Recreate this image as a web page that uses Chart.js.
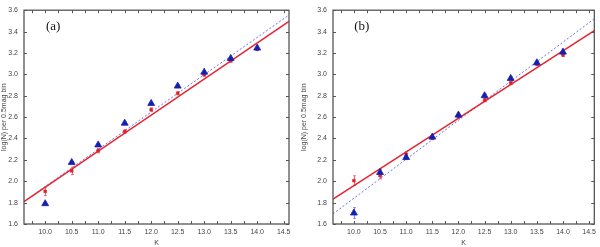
<!DOCTYPE html>
<html><head><meta charset="utf-8">
<script src="https://cdn.jsdelivr.net/npm/chart.js@4/dist/chart.umd.min.js"></script>
<style>
html,body{margin:0;padding:0;background:#fff;width:600px;height:247px;overflow:hidden}
.w{position:absolute;top:0;height:247px}
</style></head><body>
<div class="w" style="left:0;width:296px"><canvas id="ca"></canvas></div>
<div class="w" style="left:300px;width:300px"><canvas id="cb"></canvas></div>
<script>
const magBins = [10.0,10.5,11.0,11.5,12.0,12.5,13.0,13.5,14.0];
const aBlue = [1.79,2.176,2.34,2.543,2.728,2.89,3.02,3.149,3.246];
const aBlueErr = [0.01,0.01,0.01,0.01,0.01,0.01,0.01,0.01,0.01];
const aRed = [1.905,2.097,2.286,2.466,2.67,2.823,2.996,3.127,3.234];
const aRedErr = [0.04,0.035,0.02,0.015,0.015,0.015,0.012,0.012,0.012];
const aRedFit = [[9.6,1.81],[14.6,3.495]];
const aBlueFit = [[9.6,1.81],[14.6,3.555]];
const bBlue = [1.703,2.082,2.222,2.413,2.619,2.80,2.962,3.108,3.208];
const bBlueErr = [0.05,0.03,0.02,0.015,0.015,0.015,0.015,0.01,0.01];
const bRed = [2.006,2.052,2.252,2.404,2.605,2.759,2.92,3.096,3.181];
const bRedErr = [0.045,0.03,0.025,0.015,0.015,0.015,0.012,0.012,0.012];
const bRedFit = [[9.6,1.832],[14.6,3.41]];
const bBlueFit = [[9.6,1.695],[14.6,3.52]];
const xMajor = [10.0,10.5,11.0,11.5,12.0,12.5,13.0,13.5,14.0,14.5];
const xMinor = [9.75,10.25,10.75,11.25,11.75,12.25,12.75,13.25,13.75,14.25];
const yMajor = [1.6,1.8,2.0,2.2,2.4,2.6,2.8,3.0,3.2,3.4,3.6];
const panelLabels = ['(a)','(b)'];

const pts = (xs,ys)=>xs.map((x,i)=>({x:x,y:ys[i]}));
const ln = a=>a.map(p=>({x:p[0],y:p[1]}));

const decor = {
  id:'decor',
  beforeDatasetsDraw(chart){
    const c=chart.ctx, xs=chart.scales.x, ys=chart.scales.y;
    const o=chart.options.plugins.decor;
    c.save();
    o.errs.forEach(e=>{
      c.strokeStyle=e.color; c.lineWidth=1;
      e.x.forEach((xv,i)=>{
        const px=Math.round(xs.getPixelForValue(xv))+0.5;
        const y1=ys.getPixelForValue(e.y[i]-e.e[i]), y2=ys.getPixelForValue(e.y[i]+e.e[i]);
        c.beginPath(); c.moveTo(px,y1); c.lineTo(px,y2);
        c.moveTo(px-1.5,y1); c.lineTo(px+1.5,y1);
        c.moveTo(px-1.5,y2); c.lineTo(px+1.5,y2); c.stroke();
      });
    });
    c.restore();
  },
  afterDraw(chart){
    const c=chart.ctx, xs=chart.scales.x, ys=chart.scales.y, ca=chart.chartArea;
    const o=chart.options.plugins.decor;
    c.save();
    c.strokeStyle='#555'; c.lineWidth=1.3;
    c.strokeRect(ca.left,ca.top,ca.right-ca.left,ca.bottom-ca.top);
    c.lineWidth=1; c.strokeStyle='#555';
    c.beginPath();
    xMajor.concat(xMinor).forEach(v=>{
      const px=Math.round(xs.getPixelForValue(v))+0.5;
      c.moveTo(px,ca.bottom); c.lineTo(px,ca.bottom-3);
      c.moveTo(px,ca.top); c.lineTo(px,ca.top+3);
    });
    yMajor.forEach(v=>{
      const py=Math.round(ys.getPixelForValue(v))+0.5;
      c.moveTo(ca.left,py); c.lineTo(ca.left+3,py);
      c.moveTo(ca.right,py); c.lineTo(ca.right-3,py);
    });
    c.stroke();
    c.fillStyle='#111'; c.font='13px "Liberation Serif", "DejaVu Serif", serif';
    c.textAlign='center'; c.textBaseline='middle';
    c.fillText(o.label, xs.getPixelForValue(o.lx), ys.getPixelForValue(o.ly));
    c.restore();
  }
};

function make(id, blue, blueErr, red, redErr, redFit, blueFit, label, yw, padR){
  new Chart(document.getElementById(id),{
    type:'scatter',
    data:{datasets:[
      {data:ln(blueFit),showLine:true,borderColor:'#6f6ff0',borderWidth:1,borderDash:[2,2],pointRadius:0,order:4},
      {data:ln(redFit),showLine:true,borderColor:'#e8222c',borderWidth:1.5,pointRadius:0,order:3},
      {data:pts(magBins,red),pointStyle:'rect',pointRadius:2,backgroundColor:'#e0202a',borderColor:'#e0202a',borderWidth:0.5,order:2},
      {data:pts(magBins,blue),pointStyle:'triangle',pointRadius:4,backgroundColor:'#1420b0',borderColor:'#1420b0',borderWidth:0.8,order:1}
    ]},
    options:{
      responsive:false, animation:false, devicePixelRatio:1,
      layout:{padding:{top:4,right:padR,bottom:0,left:0}},
      plugins:{legend:{display:false},tooltip:{enabled:false},
        decor:{label:label,lx:10.15,ly:3.445,errs:[
          {x:magBins,y:red,e:redErr,color:'#ec6a78'},
          {x:magBins,y:blue,e:blueErr,color:'#8a8ae8'}]}},
      scales:{
        x:{type:'linear',min:9.6,max:14.6,
          afterBuildTicks:s=>{s.ticks=xMajor.map(v=>({value:v}));},
          afterFit:s=>{s.height=23;},
          grid:{display:false,drawTicks:false},border:{display:false},
          ticks:{padding:4,color:'#444',font:{family:'"Liberation Sans", Arial, sans-serif',size:7},callback:v=>v.toFixed(1),maxRotation:0,autoSkip:false},
          title:{display:true,text:'K',color:'#444',padding:{top:0,bottom:0},font:{family:'"Liberation Sans", Arial, sans-serif',size:7}}},
        y:{type:'linear',min:1.6,max:3.6,
          afterBuildTicks:s=>{s.ticks=yMajor.map(v=>({value:v}));},
          afterFit:s=>{s.width=yw;},
          grid:{display:false,drawTicks:false},border:{display:false},
          ticks:{padding:6,color:'#444',font:{family:'"Liberation Sans", Arial, sans-serif',size:7},callback:v=>v.toFixed(1),autoSkip:false},
          title:{display:true,text:'log(N) per 0.5mag bin',color:'#444',padding:{top:0,bottom:0},font:{family:'"Liberation Sans", Arial, sans-serif',size:7}}}
      }
    },
    plugins:[decor]
  });
}
document.getElementById('ca').width=296; document.getElementById('ca').height=247;
document.getElementById('cb').width=300; document.getElementById('cb').height=247;
make('ca',aBlue,aBlueErr,aRed,aRedErr,aRedFit,aBlueFit,panelLabels[0],24,7);
make('cb',bBlue,bBlueErr,bRed,bRedErr,bRedFit,bBlueFit,panelLabels[1],33,3);
</script></body></html>
